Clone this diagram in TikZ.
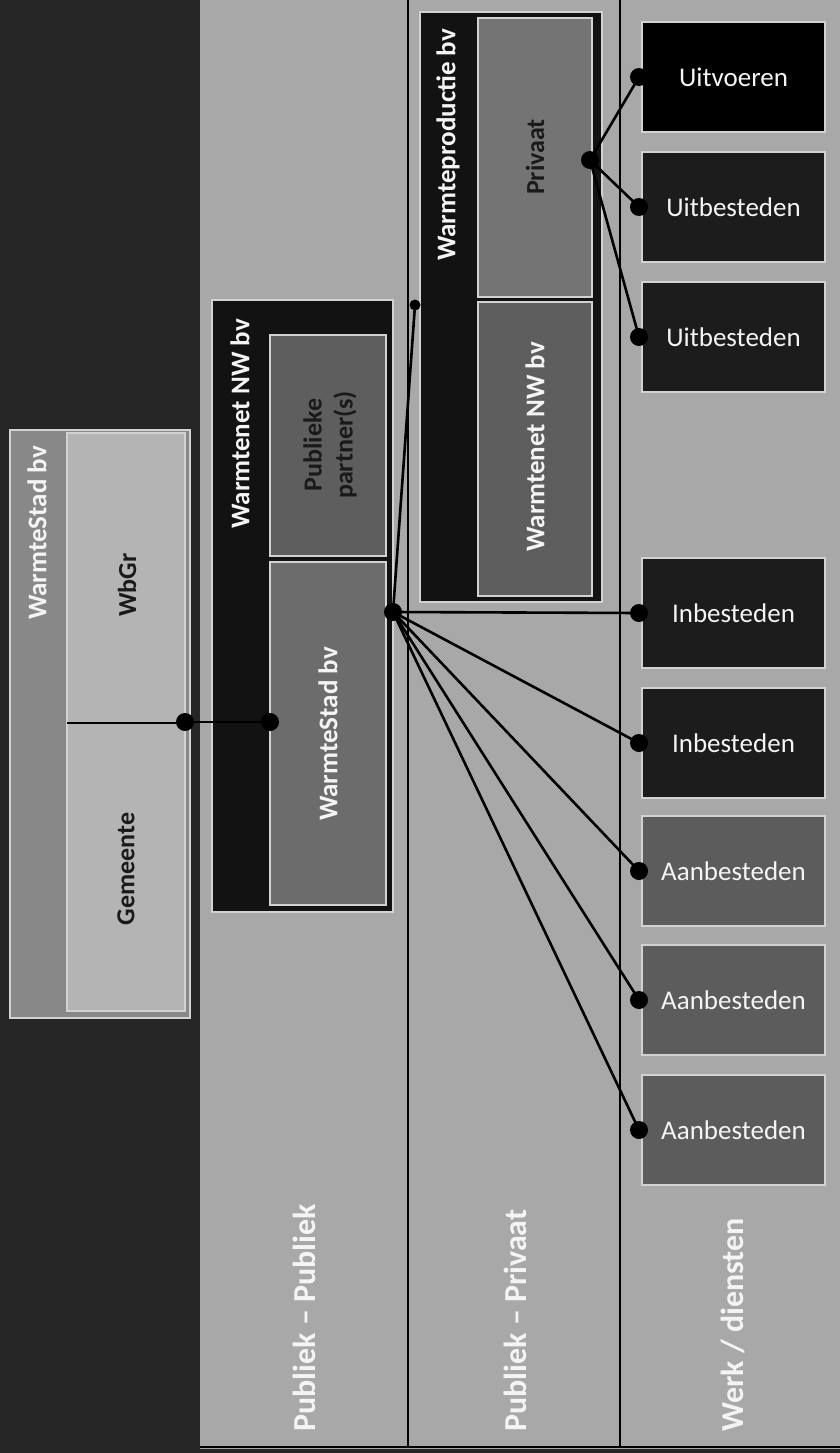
\documentclass[tikz,border=0pt]{standalone}
\usepackage{fontspec}
\setmainfont{Carlito}
\definecolor{leftdark}{HTML}{262626}
\definecolor{colbg}{HTML}{A8A8A8}
\definecolor{edge}{HTML}{D2D2D2}
\definecolor{wsouter}{HTML}{888888}
\definecolor{wsinner}{HTML}{B4B4B4}
\definecolor{blackbox}{HTML}{121212}
\definecolor{midbox}{HTML}{6C6C6C}
\definecolor{ppbox}{HTML}{5E5E5E}
\definecolor{privbox}{HTML}{747474}
\definecolor{darkbox}{HTML}{1C1C1C}
\definecolor{aanbox}{HTML}{5C5C5C}
\definecolor{darktext}{HTML}{1A1A1A}
\definecolor{lighttext}{HTML}{F4F4F4}
\begin{document}
\begin{tikzpicture}[x=1pt,y=-1pt,
  panel/.style={anchor=north west, inner sep=0pt, outer sep=0pt, draw=edge, line width=1.2pt},
  rlabel/.style={rotate=90, inner sep=0pt, font=\fontsize{26}{31}\selectfont\bfseries},
  hdr/.style={rlabel, text=lighttext, font=\fontsize{27}{31}\selectfont\bfseries},
  dlabel/.style={rlabel, text=darktext},
  collabel/.style={rotate=90, anchor=west, inner sep=0pt, text=lighttext, font=\fontsize{32}{36}\selectfont\bfseries},
  actbox/.style={panel, minimum width=183pt, minimum height=110pt, text=lighttext, font=\fontsize{27}{30}\selectfont},
  dotnode/.style={circle, fill=black, draw=none, inner sep=0pt, minimum size=18pt},
  smalldot/.style={circle, fill=black, draw=none, inner sep=0pt, minimum size=11pt},
  conn/.style={line width=2.6pt, black},
  sep/.style={line width=2.6pt, black}
]
\useasboundingbox (0,0) rectangle (840,1453);
% background columns
\fill[leftdark] (0,0) rectangle (200,1453);
\fill[colbg] (200,0) rectangle (840,1453);
\draw[sep] (408,0) -- (408,1447);
\draw[sep] (620,0) -- (620,1447);
\draw[sep] (200,1447) -- (840,1447);
\fill[leftdark] (200,1449) rectangle (840,1453);

% column labels
\node[collabel] (lblpp) at (304,1432) {Publiek – Publiek};
\node[collabel] (lblpr) at (515,1432) {Publiek – Privaat};
\node[collabel] (lblwd) at (733,1432) {Werk / diensten};

% WarmteStad bv (gemeente + WbGr)
\node[panel, fill=wsouter, minimum width=180pt, minimum height=588pt] (wsouter) at (10,430) {};
\node[panel, fill=wsinner, minimum width=118pt, minimum height=290pt] (wbgr) at (67,433) {};
\node[panel, fill=wsinner, minimum width=118pt, minimum height=288pt] (gem) at (67,723) {};
\draw[line width=1.5pt, black] (wbgr.south west) -- (wbgr.south east);
\node[hdr] (wstitle) at (37,533) {WarmteStad bv};
\node[dlabel] (wbgrlbl) at (127,585) {WbGr};
\node[dlabel] (gemlbl) at (126,869) {Gemeente};

% Warmtenet NW bv
\node[panel, fill=blackbox, minimum width=181pt, minimum height=612pt] (wnouter) at (212,300) {};
\node[panel, fill=ppbox, minimum width=116pt, minimum height=221pt] (pp) at (270,335) {};
\node[panel, fill=midbox, minimum width=116pt, minimum height=343pt] (ws2) at (270,562) {};
\node[hdr] (wntitle) at (240,424) {Warmtenet NW bv};
\node[dlabel, align=center] (pplbl) at (330,445) {Publieke\\partner(s)};
\node[hdr] (ws2lbl) at (328,734) {WarmteStad bv};

% Warmteproductie bv
\node[panel, fill=blackbox, minimum width=182pt, minimum height=590pt] (wpouter) at (420,12) {};
\node[panel, fill=privbox, minimum width=114pt, minimum height=279pt] (priv) at (478,18) {};
\node[panel, fill=ppbox, minimum width=114pt, minimum height=294pt] (wn2) at (478,302) {};
\node[hdr] (wptitle) at (448,145) {Warmteproductie bv};
\node[dlabel] (privlbl) at (535,157) {Privaat};
\node[hdr] (wn2lbl) at (535,447) {Warmtenet NW bv};

% activities
\node[actbox, fill=black] (uitv) at (642,22) {Uitvoeren};
\node[actbox, fill=darkbox] (uitb1) at (642,152) {Uitbesteden};
\node[actbox, fill=darkbox] (uitb2) at (642,282) {Uitbesteden};
\node[actbox, fill=darkbox] (inb1) at (642,558) {Inbesteden};
\node[actbox, fill=darkbox] (inb2) at (642,688) {Inbesteden};
\node[actbox, fill=aanbox] (aan1) at (642,816) {Aanbesteden};
\node[actbox, fill=aanbox] (aan2) at (642,945) {Aanbesteden};
\node[actbox, fill=aanbox] (aan3) at (642,1075) {Aanbesteden};

% dots
\node[dotnode] (dgem) at (185,722) {};
\node[dotnode] (dws2) at (270,722) {};
\node[dotnode] (hub) at (393,612) {};
\node[smalldot] (dwp) at (415,305) {};
\node[dotnode] (dpriv) at (590,160) {};
\node[dotnode] (duitv) at ([xshift=-3pt]uitv.west) {};
\node[dotnode] (duitb1) at ([xshift=-3pt]uitb1.west) {};
\node[dotnode] (duitb2) at ([xshift=-3pt]uitb2.west) {};
\node[dotnode] (dinb1) at ([xshift=-3pt]inb1.west) {};
\node[dotnode] (dinb2) at ([xshift=-3pt]inb2.west) {};
\node[dotnode] (daan1) at ([xshift=-3pt]aan1.west) {};
\node[dotnode] (daan2) at ([xshift=-3pt]aan2.west) {};
\node[dotnode] (daan3) at ([xshift=-3pt]aan3.west) {};

% connectors
\draw[conn] (dgem.center) -- (dws2.center);
\draw[conn] (hub.center) -- (dwp.center);
\draw[conn] (hub.center) -- (dinb1.center);
\draw[conn] (hub.center) -- (dinb2.center);
\draw[conn] (hub.center) -- (daan1.center);
\draw[conn] (hub.center) -- (daan2.center);
\draw[conn] (hub.center) -- (daan3.center);
\draw[conn] (dpriv.center) -- (duitv.center);
\draw[conn] (dpriv.center) -- (duitb1.center);
\draw[conn] (dpriv.center) -- (duitb2.center);
\end{tikzpicture}
\end{document}
